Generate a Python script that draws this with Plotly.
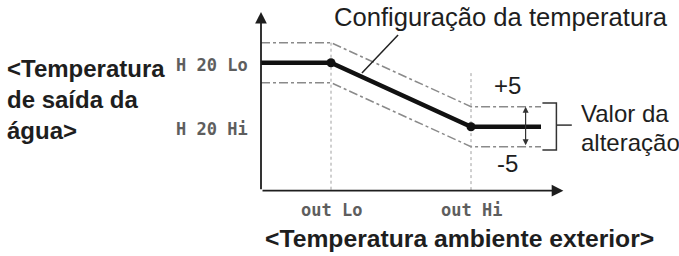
import plotly.graph_objects as go

# ---- data (schematic units) ----
x_pts = [0, 5, 15, 20]          # axis origin, out Lo, out Hi, end of curve
setting = [32, 32, 16, 16]      # water outlet temperature setting
delta = 5                       # change value (+5 / -5)
x_labels = ["out Lo", "out Hi"]
y_labels = ["H 20 Lo", "H 20 Hi"]
x_axis_end = 21.6
y_axis_end = 44.7

upper = [v + delta for v in setting]
lower = [v - delta for v in setting]

W, H = 679, 256
PX_X, X0 = 14.0, 261.0
PX_Y, Y0 = 4.0, 190.7
xr = [-X0 / PX_X, (W - X0) / PX_X]
yr = [-(H - Y0) / PX_Y, Y0 / PX_Y]

FONT = "Liberation Sans, Arial, sans-serif"
DARK = "#1e1e1e"
GRAY_LCD = "#5e5e5e"

fig = go.Figure()

# outline dash-dot lines
fig.add_trace(go.Scatter(x=x_pts, y=upper, mode="lines",
                         line=dict(color="#8a8a8a", width=1.5, dash="dashdot")))
fig.add_trace(go.Scatter(x=x_pts, y=lower, mode="lines",
                         line=dict(color="#8a8a8a", width=1.5, dash="dashdot")))
# vertical dotted guides
fig.add_trace(go.Scatter(x=[x_pts[1], x_pts[1]], y=[upper[1], 0], mode="lines",
                         line=dict(color="#a0a0a0", width=1, dash="dot")))
fig.add_trace(go.Scatter(x=[x_pts[2], x_pts[2]], y=[upper[2] + 8.4, 0], mode="lines",
                         line=dict(color="#a0a0a0", width=1, dash="dot")))
# main setting line
fig.add_trace(go.Scatter(x=x_pts, y=setting, mode="lines",
                         line=dict(color="#111111", width=4.5)))
fig.add_trace(go.Scatter(x=x_pts[1:3], y=setting[1:3], mode="markers",
                         marker=dict(color="#111111", size=9)))
# bracket
bx0, bx1 = x_pts[3] + 0.1, x_pts[3] + 1.1
fig.add_trace(go.Scatter(x=[bx0, bx1, bx1, bx0], y=[upper[3] + 0.9, upper[3] + 0.9,
                                                   lower[3] - 0.8, lower[3] - 0.8],
                         mode="lines", line=dict(color="#333333", width=1.5)))
fig.add_trace(go.Scatter(x=[bx1, bx1 + 1.1], y=[setting[3] + 0.4, setting[3] + 0.4],
                         mode="lines", line=dict(color="#333333", width=1.5)))
# leader line
fig.add_trace(go.Scatter(x=[9.79, 7.21], y=[38.9, 29.4], mode="lines",
                         line=dict(color="#222222", width=1.5)))

ann = []
# axes arrows
ann.append(dict(x=0, y=y_axis_end, ax=0, ay=0, xref="x", yref="y", axref="x", ayref="y",
                text="", showarrow=True, arrowhead=2, arrowsize=1.3, arrowwidth=1.8,
                arrowcolor=DARK))
ann.append(dict(x=x_axis_end, y=0, ax=0, ay=0, xref="x", yref="y", axref="x", ayref="y",
                text="", showarrow=True, arrowhead=2, arrowsize=1.3, arrowwidth=1.8,
                arrowcolor=DARK))
# double arrow
ann.append(dict(x=18.9, y=upper[3], ax=18.9, ay=lower[3], xref="x", yref="y", axref="x",
                ayref="y", text="", showarrow=True, arrowhead=2, startarrowhead=2,
                arrowside="end+start", arrowsize=1, startarrowsize=1, arrowwidth=1.2,
                arrowcolor="#333333"))

# LCD-style labels
for lab, yv in zip(y_labels, [setting[0], setting[2]]):
    ann.append(dict(x=-0.8, y=yv - 0.6, xref="x", yref="y", text=lab, showarrow=False,
                    xanchor="right", yanchor="middle",
                    font=dict(family="DejaVu Sans Mono, monospace", size=17, color=GRAY_LCD,
                              weight="bold")))
for lab, xv in zip(x_labels, [x_pts[1], x_pts[2]]):
    ann.append(dict(x=xv, y=-4.9, xref="x", yref="y", text=lab, showarrow=False,
                    xanchor="center", yanchor="middle",
                    font=dict(family="DejaVu Sans Mono, monospace", size=17, color=GRAY_LCD,
                              weight="bold")))

# texts
ann.append(dict(x=5 / W, y=1 - 99 / H, xref="paper", yref="paper",
                text="&lt;Temperatura<br>de saída da<br>água&gt;", showarrow=False,
                xanchor="left", yanchor="middle", align="left",
                font=dict(family=FONT, size=24, color=DARK, weight="bold")))
ann.append(dict(x=263 / W, y=1 - 238 / H, xref="paper", yref="paper",
                text="&lt;Temperatura ambiente exterior&gt;", showarrow=False,
                xanchor="left", yanchor="middle",
                font=dict(family=FONT, size=24.7, color=DARK, weight="bold")))
ann.append(dict(x=332 / W, y=1 - 17 / H, xref="paper", yref="paper",
                text="Configuração da temperatura", showarrow=False,
                xanchor="left", yanchor="middle",
                font=dict(family=FONT, size=25.6, color=DARK)))
ann.append(dict(x=507 / W, y=1 - 85 / H, xref="paper", yref="paper",
                text="+5", showarrow=False, xanchor="center", yanchor="middle",
                font=dict(family=FONT, size=24, color=DARK)))
ann.append(dict(x=507 / W, y=1 - 163 / H, xref="paper", yref="paper",
                text="-5", showarrow=False, xanchor="center", yanchor="middle",
                font=dict(family=FONT, size=24, color=DARK)))
ann.append(dict(x=579 / W, y=1 - 113 / H, xref="paper", yref="paper",
                text="Valor da", showarrow=False, xanchor="left", yanchor="middle",
                font=dict(family=FONT, size=24, color=DARK)))
ann.append(dict(x=579 / W, y=1 - 142 / H, xref="paper", yref="paper",
                text="alteração", showarrow=False, xanchor="left", yanchor="middle",
                font=dict(family=FONT, size=24, color=DARK)))

fig.update_layout(
    width=W, height=H, margin=dict(l=0, r=0, t=0, b=0),
    paper_bgcolor="white", plot_bgcolor="white", showlegend=False,
    xaxis=dict(range=xr, visible=False, fixedrange=True),
    yaxis=dict(range=yr, visible=False, fixedrange=True),
    annotations=ann,
)

fig.write_html("out.html")
